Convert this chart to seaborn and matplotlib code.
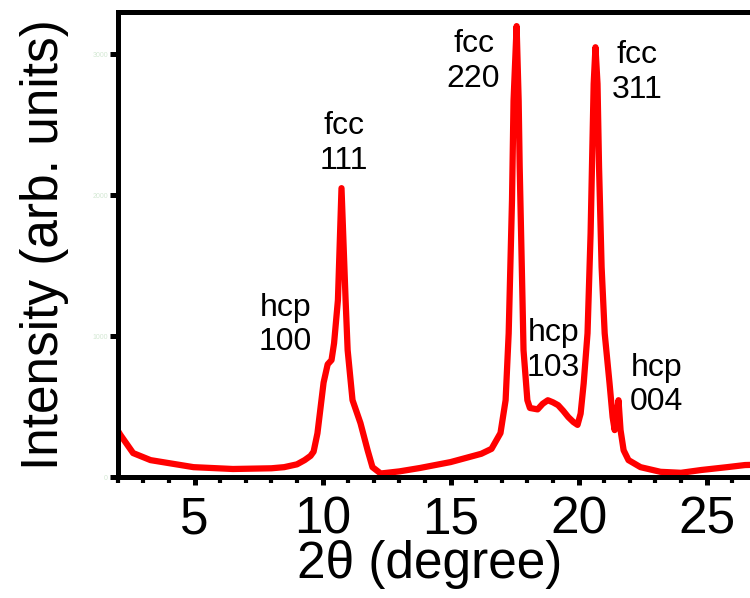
import matplotlib

matplotlib.use("Agg")

import matplotlib.pyplot as plt
import numpy as np
import pandas as pd
import seaborn as sns
from matplotlib.ticker import MultipleLocator

# XRD pattern (2theta in degree, intensity in counts)
two_theta = [
    2.0, 2.1, 2.6, 3.28, 3.95, 4.96, 6.5, 8.0, 8.5, 9.0, 9.3, 9.53, 9.65,
    9.8, 10.04, 10.2, 10.35, 10.45, 10.6, 10.74, 10.9, 10.98, 11.17, 11.48,
    11.76, 11.95, 12.27, 13.0, 13.8, 15.0, 16.2, 16.6, 16.95, 17.15, 17.27,
    17.4, 17.46, 17.58, 17.66, 17.7, 17.81, 17.85, 18.0, 18.1, 18.4, 18.6,
    18.8, 19.0, 19.2, 19.4, 19.6, 19.8, 19.96, 20.08, 20.2, 20.35, 20.47,
    20.59, 20.66, 20.74, 20.8, 20.9, 21.02, 21.21, 21.33, 21.41, 21.56,
    21.64, 21.76, 21.95, 22.42, 23.2, 24.0, 24.8, 25.8, 26.5, 27.5,
]
intensity = [
    330, 300, 170, 120, 100, 70, 57, 62, 70, 90, 120, 150, 180,
    310, 670, 800, 830, 950, 1255, 2050, 1255, 900, 546, 383,
    190, 70, 25, 40, 64, 106, 165, 200, 312, 545, 1020,
    1965, 2670, 3200, 2670, 2200, 1255, 900, 545, 490, 480, 520,
    545, 530, 510, 470, 425, 390, 370, 450, 665, 1020, 1730,
    2790, 3050, 2790, 2200, 1490, 1020, 665, 425, 333, 545,
    333, 190, 120, 70, 37, 30, 50, 70, 85, 90,
]

# peak labels
peak_text = ["hcp\n100", "fcc\n111", "fcc\n220", "hcp\n103", "fcc\n311", "hcp\n004"]
peak_x = [8.55, 10.82, 15.9, 19.02, 22.3, 23.05]
peak_y = [1078, 2369, 2950, 900, 2872, 652]

df = pd.DataFrame({"two_theta": two_theta, "intensity": intensity})

sns.set_style("ticks")
plt.rcParams["font.family"] = ["Liberation Sans", "DejaVu Sans"]
plt.rcParams["text.color"] = "black"
plt.rcParams["xtick.color"] = "black"
plt.rcParams["ytick.color"] = "black"

fig = plt.figure(figsize=(7.5, 5.98), dpi=100)
ax = fig.add_axes([0.157, 0.2023, 0.8875, 0.7776])

sns.lineplot(data=df, x="two_theta", y="intensity", ax=ax,
             color="#ff0000", linewidth=4.5, legend=False)

ax.set_xlim(2, 28)
ax.set_ylim(0, 3300)
ax.xaxis.set_major_locator(MultipleLocator(5))
ax.xaxis.set_minor_locator(MultipleLocator(1))
ax.set_yticks([0, 1000, 2000, 3000])
ax.set_xlabel("")
ax.set_ylabel("")

for side in ["left", "bottom", "top", "right"]:
    ax.spines[side].set_linewidth(3.6)
    ax.spines[side].set_color("black")

ax.tick_params(axis="x", which="major", length=6, width=3.6, labelsize=37,
               pad=7, direction="out", colors="black")
ax.tick_params(axis="x", which="minor", length=4, width=3.0, direction="out",
               colors="black")
ax.tick_params(axis="y", which="major", length=6, width=3.6, labelsize=5,
               color="black", labelcolor="#d3e8d3", pad=1, direction="out")

for txt, xx, yy in zip(peak_text, peak_x, peak_y):
    ax.text(xx, yy, txt, ha="center", va="center", fontsize=23,
            linespacing=1.2, color="black")

fig.text(45 / 750, 1 - 245 / 598, "Intensity (arb. units)", rotation=90,
         ha="center", va="center", fontsize=37, color="black")
fig.text(430 / 750, 1 - 578 / 598, "2θ (degree)", ha="center", va="baseline",
         fontsize=37, color="black")

fig.savefig("out.png", dpi=100)
